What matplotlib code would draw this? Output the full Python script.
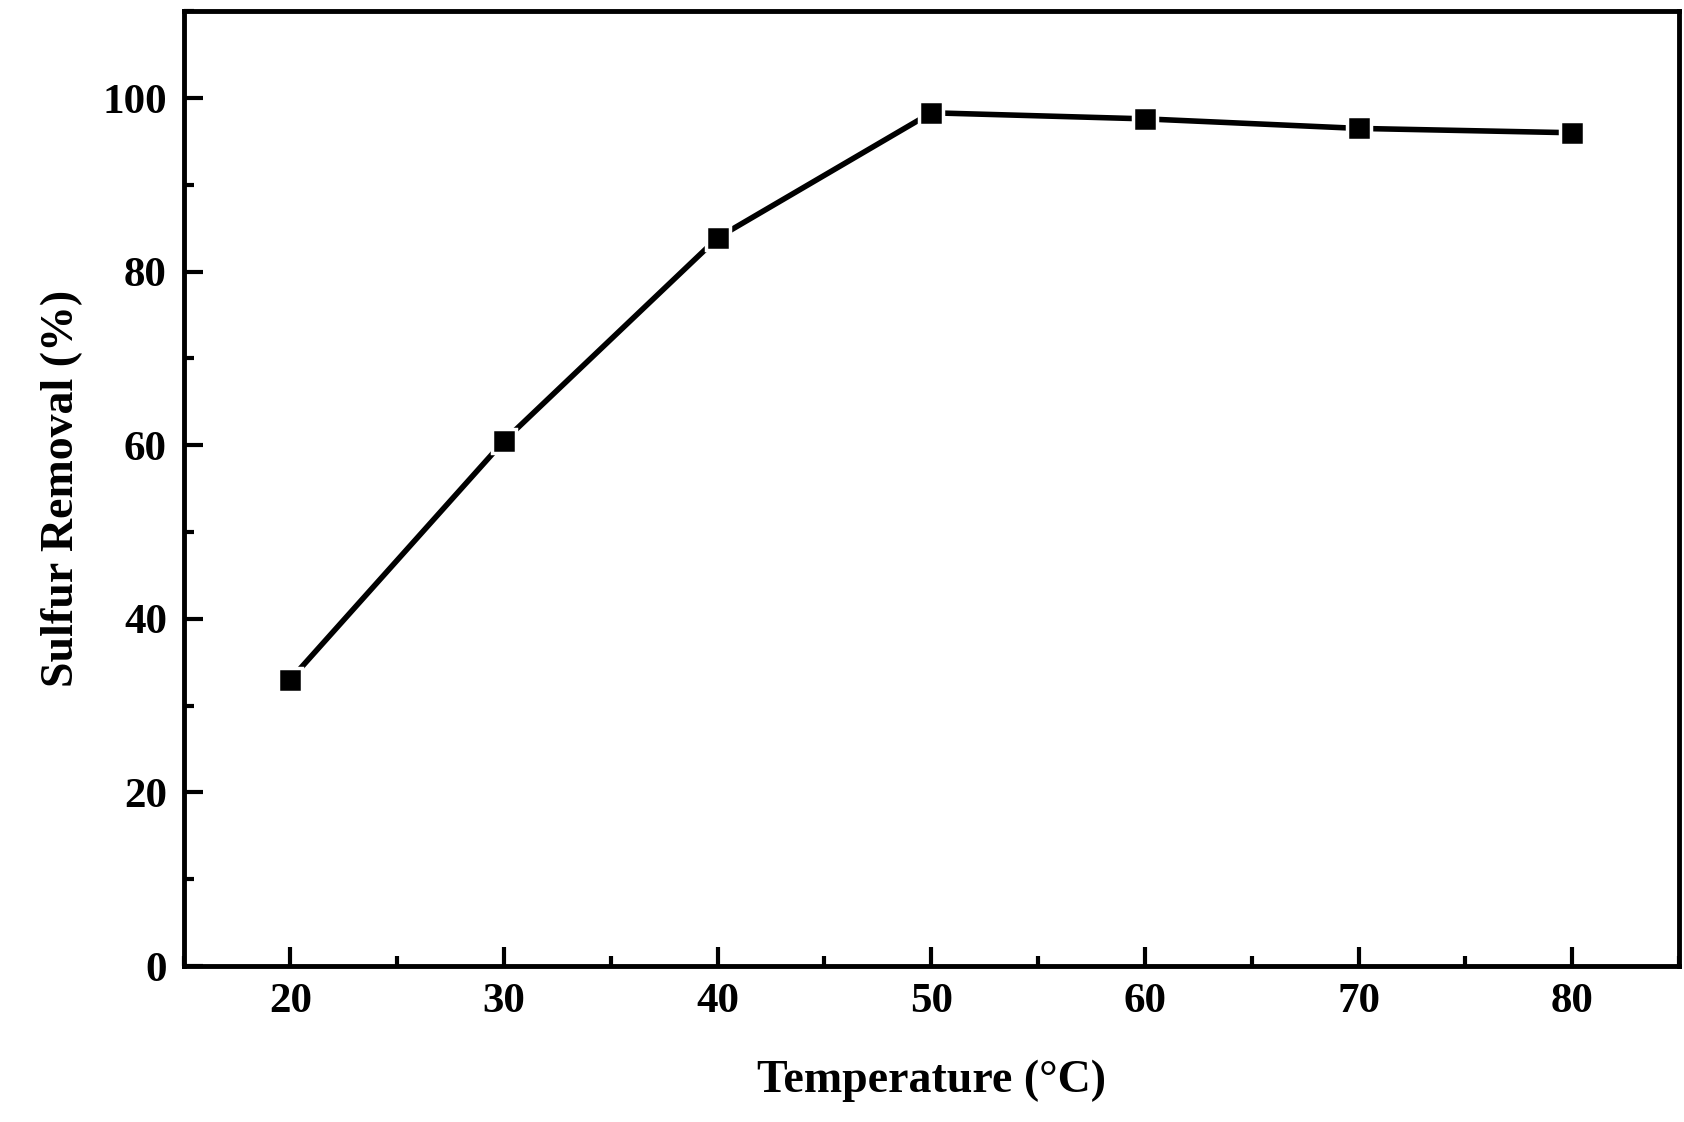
import matplotlib.pyplot as plt
from matplotlib.ticker import MultipleLocator

temperature = [20, 30, 40, 50, 60, 70, 80]
sulfur_removal = [33.0, 60.5, 83.9, 98.3, 97.6, 96.5, 96.0]

plt.rcParams['font.family'] = 'Liberation Serif'
plt.rcParams['font.weight'] = 'bold'

fig = plt.figure(figsize=(16.84, 11.22), dpi=100)
ax = fig.add_axes([0.109, 0.139, 0.888, 0.851])
ax.plot(temperature, sulfur_removal, color='black', linewidth=4,
        marker='s', markersize=17, markerfacecolor='black',
        markeredgecolor='white', markeredgewidth=2.5)

ax.set_xlim(15, 85)
ax.set_ylim(0, 110)
ax.xaxis.set_major_locator(MultipleLocator(10))
ax.xaxis.set_minor_locator(MultipleLocator(5))
ax.yaxis.set_major_locator(MultipleLocator(20))
ax.yaxis.set_minor_locator(MultipleLocator(10))
ax.tick_params(which='both', direction='in', width=3, labelsize=31)
ax.tick_params(which='major', length=14, pad=12)
ax.tick_params(which='minor', length=7)
for s in ax.spines.values():
    s.set_linewidth(3.5)
for lab in ax.get_xticklabels() + ax.get_yticklabels():
    lab.set_fontweight('bold')

ax.set_xlabel('Temperature (\u00b0C)', fontsize=33, fontweight='bold', labelpad=28)
ax.set_ylabel('Sulfur Removal (%)', fontsize=33, fontweight='bold', labelpad=14)

fig.savefig('out.png', dpi=100)
